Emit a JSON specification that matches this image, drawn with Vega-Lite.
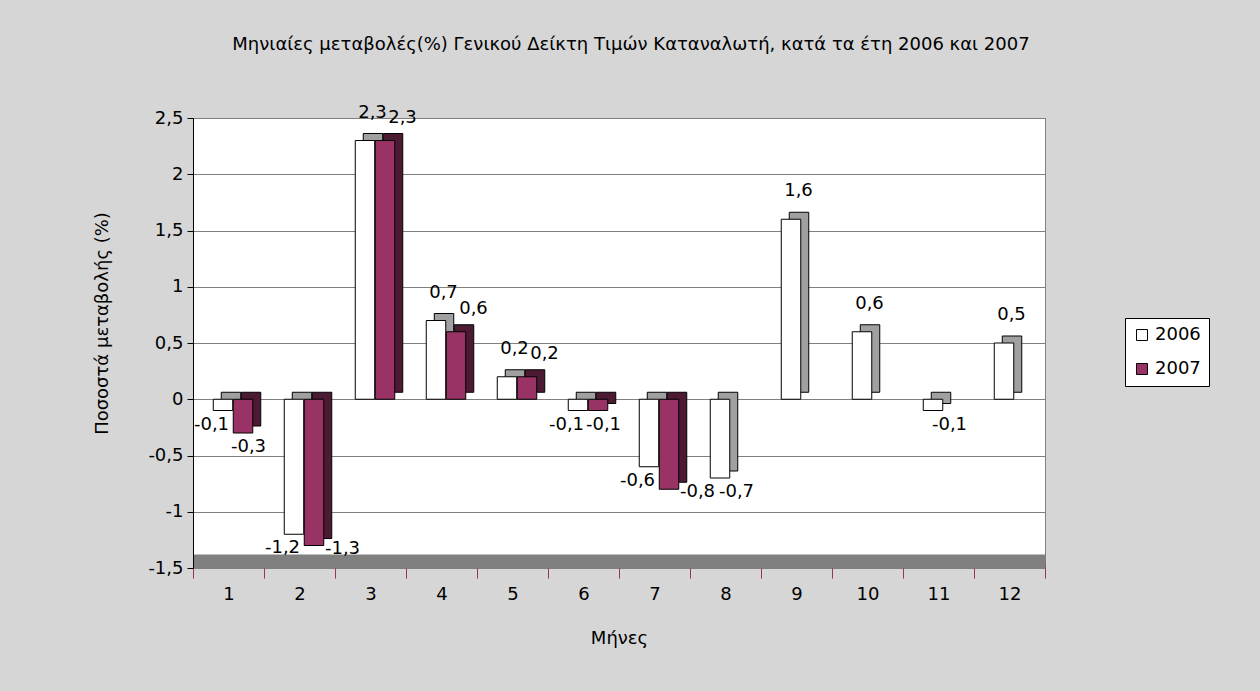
{
  "$schema": "https://vega.github.io/schema/vega-lite/v6.json",
  "autosize": {"type": "none"},
  "width": 852,
  "height": 450,
  "padding": {"left": 193, "top": 118, "right": 215, "bottom": 123},
  "background": "#d6d6d6",
  "title": {
    "text": "Μηνιαίες μεταβολές(%) Γενικού Δείκτη Τιμών Καταναλωτή, κατά τα έτη 2006 και 2007",
    "fontSize": 18,
    "fontWeight": "normal",
    "color": "#000000",
    "offset": 50,
    "dx": 12
  },
  "data": {
    "values": [
      {"month": 1, "year": "2006", "value": -0.1},
      {"month": 2, "year": "2006", "value": -1.2},
      {"month": 3, "year": "2006", "value": 2.3},
      {"month": 4, "year": "2006", "value": 0.7},
      {"month": 5, "year": "2006", "value": 0.2},
      {"month": 6, "year": "2006", "value": -0.1},
      {"month": 7, "year": "2006", "value": -0.6},
      {"month": 8, "year": "2006", "value": -0.7},
      {"month": 9, "year": "2006", "value": 1.6},
      {"month": 10, "year": "2006", "value": 0.6},
      {"month": 11, "year": "2006", "value": -0.1},
      {"month": 12, "year": "2006", "value": 0.5},
      {"month": 1, "year": "2007", "value": -0.3},
      {"month": 2, "year": "2007", "value": -1.3},
      {"month": 3, "year": "2007", "value": 2.3},
      {"month": 4, "year": "2007", "value": 0.6},
      {"month": 5, "year": "2007", "value": 0.2},
      {"month": 6, "year": "2007", "value": -0.1},
      {"month": 7, "year": "2007", "value": -0.8}
    ]
  },
  "encoding": {
    "x": {
      "field": "month",
      "type": "ordinal",
      "title": "Μήνες",
      "scale": {"paddingInner": 0, "paddingOuter": 0},
      "axis": {
        "labelAngle": 0,
        "tickBand": "extent",
        "offset": -7,
        "domainColor": "#808080",
        "domainWidth": 14,
        "tickColor": "#993366",
        "tickSize": 17,
        "labelPadding": 7,
        "titlePadding": 26,
        "grid": false
      }
    },
    "y": {
      "field": "value",
      "type": "quantitative",
      "title": "Ποσοστά μεταβολής (%)",
      "scale": {"domain": [-1.5, 2.5], "nice": false, "zero": false},
      "axis": {
        "values": [-1.5, -1, -0.5, 0, 0.5, 1, 1.5, 2, 2.5],
        "format": "~g",
        "grid": true,
        "gridColor": "#808080",
        "domainColor": "#000000",
        "tickColor": "#000000",
        "tickSize": 6,
        "labelPadding": 4,
        "titlePadding": 36,
        "titleY": 205
      }
    }
  },
  "layer": [
    {
      "data": {"values": [{"f": 1}]},
      "mark": {"type": "rule", "color": "#993366", "strokeWidth": 1},
      "encoding": {
        "x": null,
        "y": {"datum": 0, "type": "quantitative"}
      }
    },
    {
      "transform": [{"filter": "datum.year == '2006'"}],
      "mark": {"type": "bar", "width": 19.5, "xOffset": 2.5, "yOffset": -7, "fill": "#a0a0a0", "stroke": "#000000", "strokeWidth": 1}
    },
    {
      "transform": [{"filter": "datum.year == '2007'"}],
      "mark": {"type": "bar", "width": 19.5, "xOffset": 22.5, "yOffset": -7, "fill": "#4d1a33", "stroke": "#000000", "strokeWidth": 1}
    },
    {
      "transform": [{"filter": "datum.year == '2006'"}],
      "mark": {"type": "bar", "width": 19.5, "xOffset": -5.5, "stroke": "#000000", "strokeWidth": 1},
      "encoding": {
        "color": {
          "field": "year",
          "type": "nominal",
          "scale": {"domain": ["2006", "2007"], "range": ["#ffffff", "#993366"]},
          "legend": {
            "title": null,
            "orient": "none",
            "legendX": 932,
            "legendY": 200,
            "fillColor": "#ffffff",
            "strokeColor": "#000000",
            "padding": 8,
            "symbolType": "square",
            "symbolSize": 120,
            "symbolStrokeColor": "#000000",
            "symbolStrokeWidth": 1,
            "labelFontSize": 18,
            "labelColor": "#000000",
            "labelFont": "DejaVu Sans",
            "rowPadding": 16
          }
        }
      }
    },
    {
      "transform": [{"filter": "datum.year == '2007'"}],
      "mark": {"type": "bar", "width": 19.5, "xOffset": 14.5, "stroke": "#000000", "strokeWidth": 1},
      "encoding": {
        "color": {"field": "year", "type": "nominal"}
      }
    },
    {
      "transform": [{"filter": "datum.year == '2006' && datum.value >= 0"}],
      "mark": {"type": "text", "fontSize": 18, "dx": 2, "dy": -28, "baseline": "middle", "color": "#000000"},
      "encoding": {
        "text": {"field": "value", "type": "quantitative", "format": ".1f"}
      }
    },
    {
      "transform": [{"filter": "datum.year == '2007' && datum.value >= 0"}],
      "mark": {"type": "text", "fontSize": 18, "dx": 32, "dy": -23, "baseline": "middle", "color": "#000000"},
      "encoding": {
        "text": {"field": "value", "type": "quantitative", "format": ".1f"}
      }
    },
    {
      "transform": [{"filter": "datum.year == '2006' && datum.value < 0 && datum.month <= 7"}],
      "mark": {"type": "text", "fontSize": 18, "dx": -17, "dy": 14, "baseline": "middle", "color": "#000000"},
      "encoding": {
        "text": {"field": "value", "type": "quantitative", "format": ".1f"}
      }
    },
    {
      "transform": [{"filter": "datum.year == '2006' && datum.value < 0 && datum.month > 7"}],
      "mark": {"type": "text", "fontSize": 18, "dx": 11, "dy": 14, "baseline": "middle", "color": "#000000"},
      "encoding": {
        "text": {"field": "value", "type": "quantitative", "format": ".1f"}
      }
    },
    {
      "transform": [{"filter": "datum.year == '2007' && datum.value < 0 && datum.value > -0.5"}],
      "mark": {"type": "text", "fontSize": 18, "dx": 20, "dy": 14, "baseline": "middle", "color": "#000000"},
      "encoding": {
        "text": {"field": "value", "type": "quantitative", "format": ".1f"}
      }
    },
    {
      "transform": [{"filter": "datum.year == '2007' && datum.value <= -0.5"}],
      "mark": {"type": "text", "fontSize": 18, "dx": 43, "dy": 3, "baseline": "middle", "color": "#000000"},
      "encoding": {
        "text": {"field": "value", "type": "quantitative", "format": ".1f"}
      }
    }
  ],
  "config": {
    "font": "DejaVu Sans",
    "locale": {
      "number": {"decimal": ",", "thousands": ".", "grouping": [3], "currency": ["", " €"], "minus": "-"}
    },
    "view": {"stroke": "#808080", "fill": "#ffffff"},
    "text": {"font": "DejaVu Sans"},
    "axis": {
      "labelFontSize": 18,
      "labelColor": "#000000",
      "titleFontSize": 18,
      "titleFontWeight": "normal",
      "titleColor": "#000000",
      "labelFont": "DejaVu Sans",
      "titleFont": "DejaVu Sans"
    },
    "legend": {"labelFont": "DejaVu Sans"}
  }
}
